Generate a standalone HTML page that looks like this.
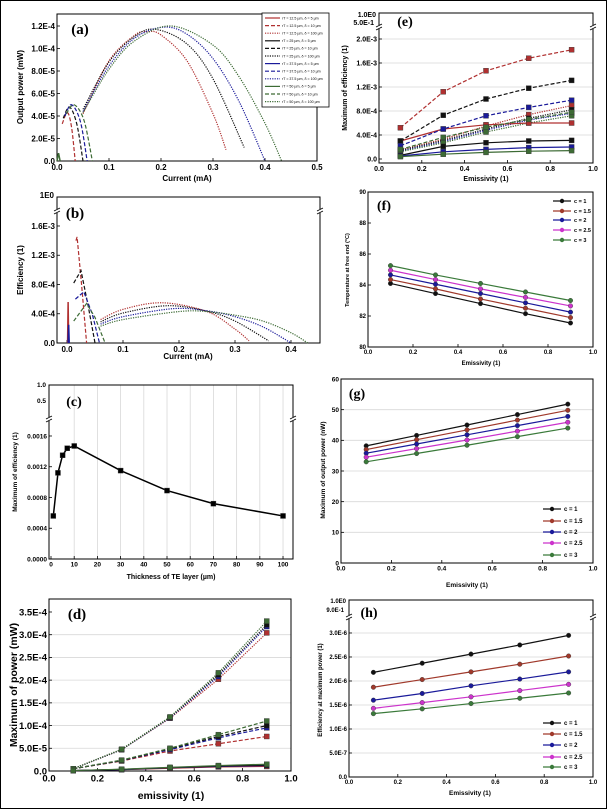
<!DOCTYPE html>
<html><head><meta charset="utf-8">
<style>
html,body{margin:0;padding:0;background:#fff;}
svg{display:block;font-family:"Liberation Sans",sans-serif;}
</style></head>
<body>
<svg id="fig" width="607" height="809" viewBox="0 0 607 809" xmlns="http://www.w3.org/2000/svg">
<rect x="0.5" y="0.5" width="606" height="808" fill="#fff" stroke="#000" stroke-width="1"/>
</svg>
<script>
// ---------- data: panel a (y in 1e-5 mW) ----------
const aDotX1=[0.05,0.1,0.15,0.175,0.2,0.25,0.3,0.325], aDotY1=[4.2,8.9,11.2,11.5,11.2,8.9,4.2,1.0];
const aDotX2=[0.05,0.1,0.15,0.19,0.25,0.3,0.36], aDotY2=[4.6,8.8,11.1,11.7,10.4,7.3,1.2];
const aDotX3=[0.05,0.1,0.15,0.205,0.25,0.3,0.35,0.4], aDotY3=[4.4,8.45,10.95,11.9,11.27,9.1,5.3,0];
const aDotX4=[0.05,0.1,0.15,0.22,0.3,0.35,0.4,0.432], aDotY4=[4.3,8.16,10.7,12.0,10.3,7.5,3.35,0];
const aDashX1=[0.01,0.02,0.028,0.035], aDashY1=[3.3,4.3,3.0,0];
const aDashX2=[0.012,0.024,0.038,0.05], aDashY2=[3.8,4.8,3.3,0];
const aDashX3=[0.015,0.028,0.045,0.058], aDashY3=[4.0,5.0,3.5,0];
const aDashX4=[0.018,0.033,0.052,0.068], aDashY4=[4.2,5.0,3.6,0];
const aSolX=[0,0.003,0.006], aSolY=[0,0.7,0];
const aXTicks=[0,0.1,0.2,0.3,0.4,0.5], aXLabels=["0.0","0.1","0.2","0.3","0.4","0.5"];
const aYTicks=[0,2,4,6,8,10,12], aYLabels=["0.0","2.0E-5","4.0E-5","6.0E-5","8.0E-5","1.0E-4","1.2E-4"];
// ---------- panel b (y in 1e-4) ----------
const bDotX1=[0.06,0.1,0.17,0.25,0.3,0.325], bDotY1=[3.2,4.6,5.5,4.3,1.9,0.3];
const bDotX2=[0.06,0.1,0.18,0.25,0.3,0.36], bDotY2=[2.9,4.1,5.1,4.35,3.0,0.3];
const bDotX3=[0.06,0.1,0.19,0.25,0.3,0.35,0.40], bDotY3=[2.6,3.6,4.7,4.4,3.6,2.2,0];
const bDotX4=[0.06,0.1,0.2,0.25,0.3,0.35,0.4,0.43], bDotY4=[2.3,3.2,4.3,4.3,3.8,3.0,1.4,0];
const bDashX1=[0.016,0.018,0.026,0.035], bDashY1=[14.0,14.5,8.0,0];
const bDashX2=[0.012,0.025,0.038,0.05], bDashY2=[8.2,9.9,5.0,0];
const bDashX3=[0.015,0.03,0.045,0.058], bDashY3=[6.0,7.0,4.0,0];
const bDashX4=[0.012,0.035,0.05,0.068], bDashY4=[3.0,5.4,3.5,0];
const bSolX1=[0.001,0.002,0.003], bSolY1=[0,5.6,0];
const bSolX2=[0.002,0.003,0.004], bSolY2=[0,2.5,0];
const bXTicks=[0,0.1,0.2,0.3,0.4], bXLabels=["0.0","0.1","0.2","0.3","0.4"];
const bYTicks=[0,4,8,12,16], bYLabels=["0.0","4.0E-4","8.0E-4","1.2E-3","1.6E-3"];
// ---------- panel c ----------
const cX=[1,3,5,7,10,30,50,70,100];
const cY=[0.00056,0.00112,0.00135,0.00144,0.00147,0.00115,0.00089,0.00072,0.00056];
const cXTicks=[0,10,20,30,40,50,60,70,80,90,100], cXLabels=["0","10","20","30","40","50","60","70","80","90","100"];
const cYTicks=[0,0.0004,0.0008,0.0012,0.0016], cYLabels=["0.0000","0.0004","0.0008","0.0012","0.0016"];
// ---------- panel d (y in 1e-5) ----------
const emis=[0.1,0.3,0.5,0.7,0.9];
const dDotR=[0.5,4.7,11.6,20.2,30.4], dDotB=[0.5,4.7,11.7,20.8,31.8], dDotK=[0.5,4.7,11.8,21.2,32.2], dDotG=[0.5,4.8,11.9,21.6,33.0];
const dDashR=[0.5,2.2,4.4,6.0,7.6], dDashB=[0.5,2.3,4.7,7.3,9.5], dDashK=[0.5,2.3,4.9,7.6,10.0], dDashG=[0.5,2.4,5.0,8.0,11.0];
const dSolR=[0.1,0.3,0.6,0.9,1.0], dSolB=[0.1,0.3,0.7,1.0,1.2], dSolK=[0.1,0.35,0.75,1.1,1.3], dSolG=[0.1,0.4,0.8,1.2,1.5];
const dXTicks=[0,0.2,0.4,0.6,0.8,1.0], dXLabels=["0.0","0.2","0.4","0.6","0.8","1.0"];
const dYTicks=[0,5,10,15,20,25,30,35], dYLabels=["0.0","5.0E-5","1.0E-4","1.5E-4","2.0E-4","2.5E-4","3.0E-4","3.5E-4"];
// ---------- panel e (y in 1e-4) ----------
const eDashR=[5.2,11.2,14.7,16.8,18.2], eDashK=[3.0,7.3,10.0,11.8,13.1], eDashB=[2.2,5.0,7.2,8.6,9.8], eDashG=[1.6,3.6,5.3,6.6,7.8];
const eSolR=[3.0,5.0,5.7,6.0,6.0], eSolK=[0.6,2.1,2.7,3.0,3.1], eSolB=[0.5,1.2,1.6,1.9,2.0], eSolG=[0.4,0.8,1.1,1.3,1.4];
const eDotR=[1.5,3.3,5.5,7.4,8.9], eDotK=[1.4,3.1,5.0,6.8,8.2], eDotB=[1.3,2.9,4.8,6.5,7.6], eDotG=[1.2,2.7,4.5,6.0,7.2];
const eYTicks=[0,4,8,12,16,20], eYLabels=["0.0","4.0E-4","8.0E-4","1.2E-3","1.6E-3","2.0E-3"];
// ---------- panel f ----------
const fC1=[84.1,83.45,82.8,82.15,81.55], fC15=[84.35,83.75,83.1,82.5,81.9], fC2=[84.65,84.05,83.45,82.85,82.25], fC25=[84.95,84.35,83.75,83.2,82.65], fC3=[85.25,84.65,84.1,83.55,83.0];
const fYTicks=[80,82,84,86,88,90], fYLabels=["80","82","84","86","88","90"];
// ---------- panel g ----------
const gC1=[38.2,41.6,45.0,48.4,51.8], gC15=[37.0,40.2,43.4,46.6,49.8], gC2=[35.8,38.8,41.8,44.8,47.8], gC25=[34.5,37.3,40.1,43.0,45.9], gC3=[33.0,35.7,38.4,41.2,44.0];
const gYTicks=[0,10,20,30,40,50,60], gYLabels=["0","10","20","30","40","50","60"];
// ---------- panel h (y in 1e-6) ----------
const hC1=[2.18,2.37,2.56,2.75,2.95], hC15=[1.87,2.03,2.19,2.35,2.52], hC2=[1.6,1.74,1.9,2.04,2.19], hC25=[1.43,1.55,1.67,1.8,1.93], hC3=[1.32,1.42,1.53,1.64,1.75];
const hYTicks=[0,0.5,1,1.5,2,2.5,3], hYLabels=["0.0","5.0E-7","1.0E-6","1.5E-6","2.0E-6","2.5E-6","3.0E-6"];
const cLabels=["c = 1","c = 1.5","c = 2","c = 2.5","c = 3"];
const eXTicks=[0,0.2,0.4,0.6,0.8,1.0], eXLabels=["0.0","0.2","0.4","0.6","0.8","1.0"];

// ---------- drawing ----------
const NS='http://www.w3.org/2000/svg';
const svg=document.getElementById('fig');
function mk(tag,attrs,parent){const e=document.createElementNS(NS,tag);for(const k in attrs)e.setAttribute(k,attrs[k]);(parent||svg).appendChild(e);return e;}
const COL={r:'#b03030',k:'#111',b:'#1a1a9a',g:'#3d6b35',m:'#cc33cc'};
const CC=['#111','#a0392b','#1a1a9a','#cc33cc','#3a7a3a'];
const DASH={sol:'',dash:'4,2',dot:'1.2,1.2'};

function makePanel(name,P){
  const g=mk('g',{});
  
  
  P.g=g;
  P.sx=v=>P.L+(v-P.x0)/(P.x1-P.x0)*(P.R-P.L);
  P.sy=v=>P.B-(v-P.y0)/(P.y1-P.y0)*(P.B-P.T);
  return P;
}
function grid(P,dir,vals){
  const gg=mk('g',{stroke:'#d8d8d8','stroke-width':0.8},P.g);
  
  
  vals.forEach(v=>{
    if(dir==='h'){const y=P.sy(v);mk('line',{x1:P.L,x2:P.R,y1:y,y2:y},gg);}
    else{const x=P.sx(v);mk('line',{x1:x,x2:x,y1:P.FT,y2:P.B},gg);}
  });
}
function frame(P){
  const r=mk('rect',{x:P.L,y:P.FT,width:P.R-P.L,height:P.B-P.FT,fill:'none',stroke:'#000','stroke-width':1},P.g);
  
  
}
function axes(P,xt,xl,yt,yl,fs){
  const xa=mk('g',{'font-size':fs,'font-weight':'bold','text-anchor':'middle',fill:'#000'},P.g);
  
  
  xt.forEach((v,i)=>{const x=P.sx(v);
    mk('line',{x1:x,x2:x,y1:P.B,y2:P.B-3,stroke:'#000','stroke-width':0.8},xa);
    const t=mk('text',{x:x,y:P.B+fs+1},xa);t.textContent=xl[i];});
  const ya=mk('g',{'font-size':fs,'font-weight':'bold','text-anchor':'end',fill:'#000'},P.g);
  
  
  yt.forEach((v,i)=>{const y=P.sy(v);
    mk('line',{x1:P.L,x2:P.L+3,y1:y,y2:y,stroke:'#000','stroke-width':0.8},ya);
    const t=mk('text',{x:P.L-2,y:y+fs*0.35},ya);t.textContent=yl[i];});
}
function txt(P,name,s,x,y,fs,opts){
  const t=mk('text',Object.assign({x:x,y:y,'font-size':fs,'font-weight':'bold','text-anchor':'middle',fill:'#000'},opts||{}),P?P.g:svg);
  
  
  t.textContent=s;return t;
}
function ytitle(P,s,x,y,fs){const t=txt(P,'y-axis-title',s,x,y,fs,{transform:`rotate(-90 ${x} ${y})`});}
function brk(P,y){
  const b=mk('g',{stroke:'#000','stroke-width':0.8},P.g);
  
  
  [P.L,P.R].forEach(x=>{
    mk('rect',{x:x-3,y:y-2,width:6,height:4,fill:'#fff',stroke:'none'},b);
    mk('line',{x1:x-3,y1:y,x2:x+3,y2:y-3},b);
    mk('line',{x1:x-3,y1:y+3,x2:x+3,y2:y},b);
  });
}
function catmull(pts){
  if(pts.length<3)return 'M'+pts.map(p=>p.join(',')).join('L');
  let d='M'+pts[0][0]+','+pts[0][1];
  for(let i=0;i<pts.length-1;i++){
    const p0=pts[i-1]||pts[i],p1=pts[i],p2=pts[i+1],p3=pts[i+2]||p2;
    const c1=[p1[0]+(p2[0]-p0[0])/6,p1[1]+(p2[1]-p0[1])/6];
    const c2=[p2[0]-(p3[0]-p1[0])/6,p2[1]-(p3[1]-p1[1])/6];
    d+=`C${c1[0]},${c1[1]} ${c2[0]},${c2[1]} ${p2[0]},${p2[1]}`;
  }
  return d;
}
function series(P,name,xs,ys,color,style,opt){
  opt=opt||{};
  const pts=xs.map((x,i)=>[P.sx(x),P.sy(ys[i])]);
  const d=opt.smooth?catmull(pts):'M'+pts.map(p=>p.join(',')).join('L');
  const path=mk('path',{d:d,fill:'none',stroke:color,'stroke-width':opt.w||1.2,'stroke-dasharray':DASH[style]},P.g);
  
  
  if(opt.marker){
    pts.forEach(p=>{
      let m;
      if(opt.marker==='sq'){m=mk('rect',{x:p[0]-2.5,y:p[1]-2.5,width:5,height:5,fill:color,stroke:'#333','stroke-width':0.4},P.g);}
      else{m=mk('circle',{cx:p[0],cy:p[1],r:2.3,fill:color,stroke:'#333','stroke-width':0.4},P.g);}
      
      
    });
  }
}
function legend(P,x,ys,fs){
  const lg=mk('g',{},P.g);
  
  
  ys.forEach((y,i)=>{
    const e=mk('g',{},lg);
    
    
    mk('line',{x1:x,x2:x+18,y1:y,y2:y,stroke:CC[i],'stroke-width':1.3},e);
    mk('circle',{cx:x+9,cy:y,r:2.2,fill:CC[i]},e);
    const t=mk('text',{x:x+21,y:y+fs*0.35,'font-size':fs,'font-weight':'bold',fill:'#000'},e);
    t.textContent=cLabels[i];
  });
}

// ===== Panel a =====
const A=makePanel('panel-a',{L:57,R:317,T:14,FT:14,B:161,x0:0,x1:0.5,y0:0,y1:13.067});
frame(A);
axes(A,aXTicks,aXLabels,aYTicks,aYLabels,8);
[[aDotX1,aDotY1,COL.r],[aDotX2,aDotY2,COL.k],[aDotX3,aDotY3,COL.b],[aDotX4,aDotY4,COL.g]].forEach((s,i)=>series(A,'a-dotted-curve-'+(i+1),s[0],s[1],s[2],'dot',{smooth:true}));
[[aDashX1,aDashY1,COL.r],[aDashX2,aDashY2,COL.k],[aDashX3,aDashY3,COL.b],[aDashX4,aDashY4,COL.g]].forEach((s,i)=>series(A,'a-dashed-curve-'+(i+1),s[0],s[1],s[2],'dash',{smooth:true}));
series(A,'a-solid-curve',aSolX,aSolY,COL.g,'sol',{w:1.5});
txt(A,'panel-label-a','(a)',80,34,15,{'font-family':'Liberation Serif, serif'});
ytitle(A,'Output power (mW)',23,87,8);
txt(A,'x-axis-title','Current (mA)',187,181,8);
// legend a
(function(){
  const lg=mk('g',{},A.g);
  
  
  mk('rect',{x:262,y:13,width:67,height:94,fill:'#fff',stroke:'#000','stroke-width':0.8},lg);
  const rs=['12.5','25','37.5','50'],ds=['5','10','100'],cols=[COL.r,COL.k,COL.b,COL.g],st=['sol','dash','dot'];
  let i=0;
  rs.forEach((r,ri)=>ds.forEach((d,di)=>{
    const y=18+i*7.6;
    const e=mk('g',{},lg);
    
    
    mk('line',{x1:265,x2:280,y1:y,y2:y,stroke:cols[ri],'stroke-width':1.2,'stroke-dasharray':DASH[st[di]]},e);
    const t=mk('text',{x:282,y:y+1.3,'font-size':3.6,fill:'#000'},e);
    t.textContent='rT = '+r+' µm, δ = '+d+' µm';
    i++;
  }));
})();

// ===== Panel b =====
const B=makePanel('panel-b',{L:57,R:320,T:211,FT:197,B:343,x0:-0.01786,x1:0.4518,y0:0,y1:18.05});
frame(B);
axes(B,bXTicks,bXLabels,bYTicks,bYLabels,8);
brk(B,211);
txt(B,'y-break-label','1E0',54,198,8,{'text-anchor':'end'});
[[bDotX1,bDotY1,COL.r],[bDotX2,bDotY2,COL.k],[bDotX3,bDotY3,COL.b],[bDotX4,bDotY4,COL.g]].forEach((s,i)=>series(B,'b-dotted-curve-'+(i+1),s[0],s[1],s[2],'dot',{smooth:true}));
[[bDashX1,bDashY1,COL.r],[bDashX2,bDashY2,COL.k],[bDashX3,bDashY3,COL.b],[bDashX4,bDashY4,COL.g]].forEach((s,i)=>series(B,'b-dashed-curve-'+(i+1),s[0],s[1],s[2],'dash',{}));
series(B,'b-solid-curve-1',bSolX1,bSolY1,COL.r,'sol',{w:1.5});
series(B,'b-solid-curve-2',bSolX2,bSolY2,COL.b,'sol',{w:1.5});
txt(B,'panel-label-b','(b)',75,218,15,{'font-family':'Liberation Serif, serif'});
ytitle(B,'Efficiency (1)',23,270,8);
txt(B,'x-axis-title','Current (mA)',188,359,8);

// ===== Panel c =====
const C=makePanel('panel-c',{L:49,R:293,T:419,FT:385,B:559,x0:-0.862,x1:104.3,y0:0,y1:0.001821});
grid(C,'v',cXTicks.slice(1));
frame(C);
axes(C,cXTicks,cXLabels,cYTicks,cYLabels,6.5);
brk(C,419);
txt(C,'y-break-label','0.5',46,403,6.5,{'text-anchor':'end'});
txt(C,'y-break-label','1.0',46,387,6.5,{'text-anchor':'end'});
series(C,'c-efficiency-line',cX,cY,'#000','sol',{w:1.5,marker:'sq'});
txt(C,'panel-label-c','(c)',74,406,14,{'font-family':'Liberation Serif, serif'});
ytitle(C,'Maximum of efficiency (1)',17,472,6.5);
txt(C,'x-axis-title','Thickness of TE layer (µm)',171,579,7);

// ===== Panel d =====
const D=makePanel('panel-d',{L:49,R:291,T:599,FT:599,B:771,x0:0,x1:1,y0:0,y1:37.86});
grid(D,'h',[5,10,15,20,25,30]);
frame(D);
axes(D,dXTicks,dXLabels,dYTicks,dYLabels,9.5);
const dSet=[['dotted',[dDotR,dDotB,dDotK,dDotG],'dot'],['dashed',[dDashR,dDashB,dDashK,dDashG],'dash'],['solid',[dSolR,dSolB,dSolK,dSolG],'sol']];
dSet.forEach(s=>s[1].forEach((ys,i)=>series(D,'d-'+s[0]+'-'+['red','blue','black','green'][i],emis,ys,[COL.r,COL.b,COL.k,COL.g][i],s[2],{marker:'sq'})));
txt(D,'panel-label-d','(d)',77,619,15,{'font-family':'Liberation Serif, serif'});
ytitle(D,'Maximum of power (mW)',17,685,10.5);
txt(D,'x-axis-title','emissivity (1)',171,799,10.5);

// ===== Panel e =====
const E=makePanel('panel-e',{L:379,R:593,T:27,FT:13,B:163,x0:0,x1:1,y0:-0.667,y1:22});
grid(E,'h',[4,8,12,16,20]);
frame(E);
axes(E,eXTicks,eXLabels,eYTicks,eYLabels,7);
brk(E,27);
txt(E,'y-break-label','1.0E0',376,17,7,{'text-anchor':'end'});
txt(E,'y-break-label','5.0E-1',374,25,7,{'text-anchor':'end'});
const eSet=[['dotted',[eDotR,eDotK,eDotB,eDotG],'dot'],['solid',[eSolR,eSolK,eSolB,eSolG],'sol'],['dashed',[eDashR,eDashK,eDashB,eDashG],'dash']];
eSet.forEach(s=>s[1].forEach((ys,i)=>series(E,'e-'+s[0]+'-'+['red','black','blue','green'][i],emis,ys,[COL.r,COL.k,COL.b,COL.g][i],s[2],{marker:'sq'})));
txt(E,'panel-label-e','(e)',405,26,14,{'font-family':'Liberation Serif, serif'});
ytitle(E,'Maximum of efficiency (1)',347,88,7);
txt(E,'x-axis-title','Emissivity (1)',486,181,7);

// ===== Panel f =====
const F=makePanel('panel-f',{L:368,R:593,T:192,FT:192,B:347,x0:0,x1:1,y0:80,y1:90});
frame(F);
axes(F,eXTicks,eXLabels,fYTicks,fYLabels,6);
[fC1,fC15,fC2,fC25,fC3].forEach((ys,i)=>series(F,'f-line-'+cLabels[i].replace(/[ =.]/g,''),emis,ys,CC[i],'sol',{marker:'c'}));
legend(F,553,[201,211,220,230,240],5.5);
txt(F,'panel-label-f','(f)',384,210,14,{'font-family':'Liberation Serif, serif'});
ytitle(F,'Temperature at free end (°C)',349,270,5.5);
txt(F,'x-axis-title','Emissivity (1)',481,365,6);

// ===== Panel g =====
const G=makePanel('panel-g',{L:341,R:593,T:379,FT:379,B:563,x0:0,x1:1,y0:0,y1:60});
grid(G,'h',[10,20,30,40,50]);
frame(G);
axes(G,eXTicks,eXLabels,gYTicks,gYLabels,6.5);
[gC1,gC15,gC2,gC25,gC3].forEach((ys,i)=>series(G,'g-line-'+cLabels[i].replace(/[ =.]/g,''),emis,ys,CC[i],'sol',{marker:'c'}));
legend(G,543,[509,521,532,543,555],6);
txt(G,'panel-label-g','(g)',357,398,14,{'font-family':'Liberation Serif, serif'});
ytitle(G,'Maximum of output power (nW)',325,470,6.5);
txt(G,'x-axis-title','Emissivity (1)',467,587,6.5);

// ===== Panel h =====
const H=makePanel('panel-h',{L:349,R:593,T:617,FT:600,B:777,x0:0,x1:1,y0:0,y1:3.333});
grid(H,'h',[0.5,1,1.5,2,2.5,3]);
frame(H);
axes(H,eXTicks,eXLabels,hYTicks,hYLabels,6);
brk(H,617);
txt(H,'y-break-label','1.0E0',346,603,6,{'text-anchor':'end'});
txt(H,'y-break-label','9.0E-1',344,612,6,{'text-anchor':'end'});
[hC1,hC15,hC2,hC25,hC3].forEach((ys,i)=>series(H,'h-line-'+cLabels[i].replace(/[ =.]/g,''),emis,ys,CC[i],'sol',{marker:'c'}));
legend(H,543,[723,734,745,757,767],6);
txt(H,'panel-label-h','(h)',369,617,14,{'font-family':'Liberation Serif, serif'});
ytitle(H,'Efficiency at maximum power (1)',322,690,6);
txt(H,'x-axis-title','Emissivity (1)',470,795,6.5);
</script>
</body></html>
